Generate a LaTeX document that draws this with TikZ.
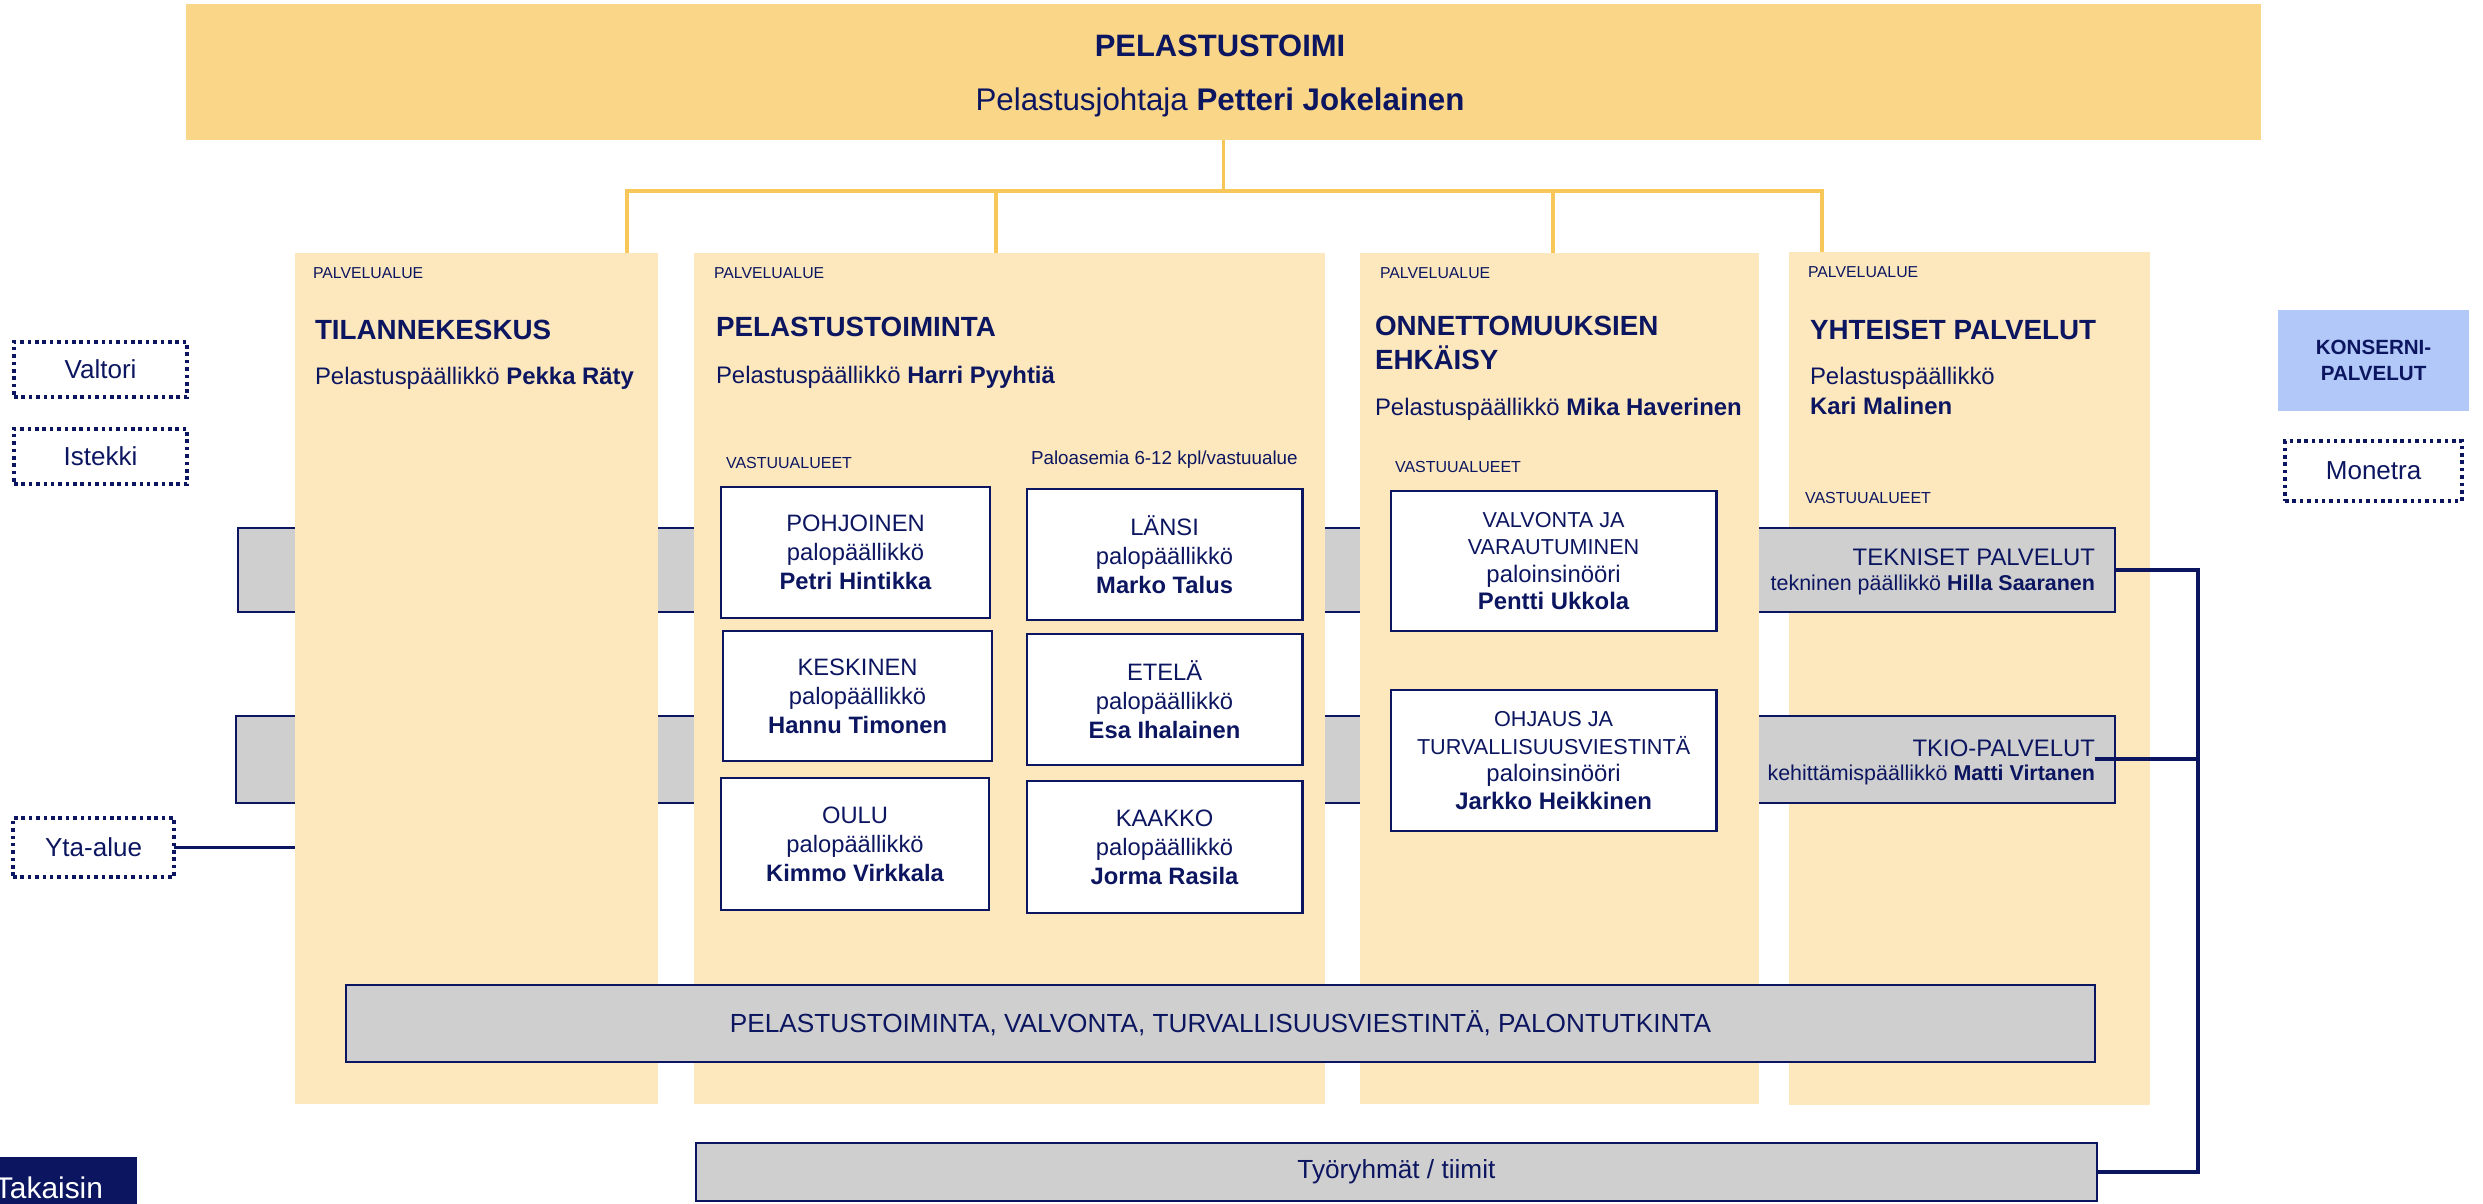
\documentclass[tikz,border=0pt]{standalone}
\usepackage{fontspec}
\setmainfont{Liberation Sans}
\usetikzlibrary{positioning}

\definecolor{navy}{RGB}{12,22,96}
\definecolor{headfill}{RGB}{249,214,136}
\definecolor{colfill}{RGB}{253,232,190}
\definecolor{feedline}{RGB}{247,199,90}
\definecolor{barfill}{RGB}{207,207,207}
\definecolor{konsernifill}{RGB}{178,200,248}

\begin{document}
\begin{tikzpicture}[x=0.01cm,y=-0.01cm]

    \tikzstyle{areabox}=[fill=colfill,draw=none,outer sep=0pt,inner sep=0pt,anchor=north west]
    \tikzstyle{bandbox}=[fill=barfill,draw=navy,line width=0.75pt,outer sep=0pt,inner sep=0pt,anchor=north west,text=navy,font=\fontsize{7.45}{9}\selectfont]
    \tikzstyle{unitbox}=[fill=white,draw=navy,line width=0.75pt,outer sep=0pt,inner sep=0pt,anchor=north west,align=center,text=navy,font=\fontsize{6.75}{8.25}\selectfont]
    \tikzstyle{partnerbox}=[draw=navy,line width=1pt,dash pattern=on 1pt off 1.1pt,outer sep=0pt,inner sep=0pt,anchor=north west,text=navy,font=\fontsize{7.4}{9}\selectfont]
    \tikzstyle{txt}=[inner sep=0pt,outer sep=0pt,anchor=base west,text=navy]
    \tikzstyle{areatag}=[txt,font=\fontsize{4.5}{5.5}\selectfont]
    \tikzstyle{areahead}=[txt,font=\bfseries\fontsize{7.9}{9.5}\selectfont]
    \tikzstyle{chief}=[txt,font=\fontsize{6.8}{8}\selectfont]
    \tikzstyle{feed}=[line width=1pt,draw=feedline]
    \tikzstyle{link}=[line width=1pt,draw=navy]

\useasboundingbox (0,0) rectangle (2483,1204);

% service areas and the bands that run behind them
\node (yhteiset) [areabox,minimum width=3.61cm,minimum height=8.52cm] at (1789,252) {};

\node (tekniset) [bandbox,minimum width=18.76cm,minimum height=0.84cm] at (238,528) {};
\node (tkio) [bandbox,minimum width=18.78cm,minimum height=0.87cm] at (236,716) {};

\node (tilanne) [areabox,minimum width=3.63cm,minimum height=8.50cm] at (295,253) {};
\node (pelastus) [areabox,minimum width=6.31cm,minimum height=8.50cm] at (694,253) {};
\node (onnettomuus) [areabox,minimum width=3.99cm,minimum height=8.50cm] at (1360,253) {};

\node (yhteinen) [bandbox,minimum width=17.48cm,minimum height=0.77cm] at (346,985) {PELASTUSTOIMINTA, VALVONTA, TURVALLISUUSVIESTINTÄ, PALONTUTKINTA};
\node (tyoryhmat) [bandbox,minimum width=14.00cm,minimum height=0.58cm] at (696,1143) {Työryhmät / tiimit};

% top
\node (toimi) [fill=headfill,draw=none,outer sep=0pt,inner sep=0pt,anchor=north west,minimum width=20.74cm,minimum height=1.36cm] at (186,4) {};
\node (toiminame) [txt,anchor=base,font=\bfseries\fontsize{8.8}{10}\selectfont] at (1220,57) {PELASTUSTOIMI};
\node (toimichief) [txt,anchor=base,font=\fontsize{8.9}{10}\selectfont] at (1220,111) {Pelastusjohtaja \textbf{Petteri Jokelainen}};

\coordinate (busL) at (627,191);
\coordinate (busP) at (996,191);
\coordinate (busO) at (1553,191);
\coordinate (busR) at (1822,191);

\draw[feed] (toimi.south) -- (toimi.south |- busL);
\draw[feed] (busL |- tilanne.north) -- (busL) -- (busR) -- (busR |- yhteiset.north);
\draw[feed] (busP) -- (busP |- pelastus.north);
\draw[feed] (busO) -- (busO |- onnettomuus.north);

% TILANNEKESKUS
\node (tagT) [areatag] at (313,279) {PALVELUALUE};
\node (headT) [areahead] at (315,340) {TILANNEKESKUS};
\node (chiefT) [chief] at (315,385) {Pelastuspäällikkö \textbf{Pekka Räty}};

% PELASTUSTOIMINTA
\node (tagP) [areatag] at (714,279) {PALVELUALUE};
\node (headP) [areahead] at (716,337) {PELASTUSTOIMINTA};
\node (chiefP) [chief] at (716,384) {Pelastuspäällikkö \textbf{Harri Pyyhtiä}};
\node (vastP) [txt,font=\fontsize{4.55}{5.5}\selectfont] at (726,469) {VASTUUALUEET};
\node (asemat) [txt,font=\fontsize{5.35}{6.5}\selectfont] at (1031,465) {Paloasemia 6-12 kpl/vastuualue};

\node (pohjoinen) [unitbox,minimum width=2.69cm,minimum height=1.31cm] at (721,487) {POHJOINEN\\palopäällikkö\\\textbf{Petri Hintikka}};
\node (lansi) [unitbox,minimum width=2.75cm,minimum height=1.31cm] at (1027,489) {LÄNSI\\palopäällikkö\\\textbf{Marko Talus}};
\node (keskinen) [unitbox,minimum width=2.69cm,minimum height=1.30cm] at (723,631) {KESKINEN\\palopäällikkö\\\textbf{Hannu Timonen}};
\node (etela) [unitbox,minimum width=2.75cm,minimum height=1.31cm] at (1027,634) {ETELÄ\\palopäällikkö\\\textbf{Esa Ihalainen}};
\node (oulu) [unitbox,minimum width=2.68cm,minimum height=1.32cm] at (721,778) {OULU\\palopäällikkö\\\textbf{Kimmo Virkkala}};
\node (kaakko) [unitbox,minimum width=2.75cm,minimum height=1.32cm] at (1027,781) {KAAKKO\\palopäällikkö\\\textbf{Jorma Rasila}};

% ONNETTOMUUKSIEN EHKÄISY
\node (tagO) [areatag] at (1380,279) {PALVELUALUE};
\node (headO) [areahead] at (1375,336) {ONNETTOMUUKSIEN};
\node (headO2) [areahead] at (1375,370) {EHKÄISY};
\node (chiefO) [chief] at (1375,416) {Pelastuspäällikkö \textbf{Mika Haverinen}};
\node (vastO) [txt,font=\fontsize{4.55}{5.5}\selectfont] at (1395,473) {VASTUUALUEET};

\node (valvonta) [unitbox,minimum width=3.25cm,minimum height=1.40cm,font=\fontsize{6.8}{7.85}\selectfont] at (1391,491) {{\fontsize{6.15}{7.85}\selectfont VALVONTA JA}\\{\fontsize{6.15}{7.85}\selectfont VARAUTUMINEN}\\paloinsinööri\\\textbf{Pentti Ukkola}};
\node (ohjaus) [unitbox,minimum width=3.25cm,minimum height=1.41cm,font=\fontsize{6.8}{7.85}\selectfont] at (1391,690) {{\fontsize{6.15}{7.85}\selectfont OHJAUS JA}\\{\fontsize{6.15}{7.85}\selectfont TURVALLISUUSVIESTINTÄ}\\paloinsinööri\\\textbf{Jarkko Heikkinen}};

% YHTEISET PALVELUT
\node (tagY) [areatag] at (1808,278) {PALVELUALUE};
\node (headY) [areahead] at (1810,340) {YHTEISET PALVELUT};
\node (chiefY) [chief] at (1810,385) {Pelastuspäällikkö};
\node (chiefY2) [chief] at (1810,415) {\textbf{Kari Malinen}};
\node (vastY) [txt,font=\fontsize{4.55}{5.5}\selectfont] at (1805,504) {VASTUUALUEET};

\node (teknisettitle) [txt,anchor=base east,font=\fontsize{6.8}{8}\selectfont] at (2095,566) {TEKNISET PALVELUT};
\node (teknisetchief) [txt,anchor=base east,font=\fontsize{6.1}{7}\selectfont] at (2095,591) {tekninen päällikkö \textbf{Hilla Saaranen}};
\node (tkiotitle) [txt,anchor=base east,font=\fontsize{6.8}{8}\selectfont] at (2095,756) {TKIO-PALVELUT};
\node (tkiochief) [txt,anchor=base east,font=\fontsize{6.1}{7}\selectfont] at (2095,781) {kehittämispäällikkö \textbf{Matti Virtanen}};

% right hand rail
\coordinate (rail) at (2198,569);
\draw[link] (tekniset.east) -- (tekniset.east -| rail) -- (tyoryhmat.east -| rail) -- (tyoryhmat.east);
\draw[link] ([yshift=-0.03cm]tkiotitle.base east) -- ([yshift=-0.03cm]tkiotitle.base east -| rail);

% partners
\node (valtori) [partnerbox,minimum width=1.73cm,minimum height=0.55cm] at (14,342) {Valtori};
\node (istekki) [partnerbox,minimum width=1.73cm,minimum height=0.55cm] at (14,429) {Istekki};
\node (yta) [partnerbox,minimum width=1.61cm,minimum height=0.59cm] at (13,818) {Yta-alue};
\node (monetra) [partnerbox,minimum width=1.77cm,minimum height=0.60cm] at (2285,441) {Monetra};
\node (konserni) [fill=konsernifill,draw=none,outer sep=0pt,inner sep=0pt,anchor=north west,align=center,text=navy,font=\bfseries\fontsize{5.85}{7.4}\selectfont,minimum width=1.91cm,minimum height=1.01cm] at (2278,310) {KONSERNI-\\PALVELUT};

\draw[line width=1.1pt,draw=navy] (yta.east) -- (yta.east -| tilanne.west);

\node (takaisin) [fill=navy,draw=none,outer sep=0pt,inner sep=0pt,anchor=north west,minimum width=1.37cm,minimum height=0.47cm] at (0,1157) {};
\node (takaisintext) [txt,text=white,font=\fontsize{8.5}{10}\selectfont] at (-5,1198) {Takaisin};

\end{tikzpicture}
\end{document}
